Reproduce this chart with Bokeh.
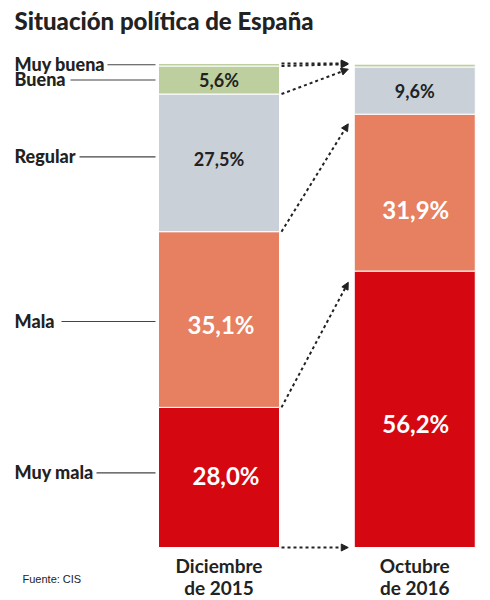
from bokeh.plotting import figure
from bokeh.models import Range1d, ColumnDataSource, Arrow, NormalHead, Label
from bokeh.core.properties import value
from bokeh.embed import file_html
from bokeh.resources import INLINE
import numpy as np

# ---------------- data ----------------
categories = ["Muy mala", "Mala", "Regular", "Buena", "Muy buena"]
periods = ["Diciembre\nde 2015", "Octubre\nde 2016"]
dic_2015 = [28.0, 35.1, 27.5, 5.6, 0.5]
oct_2016 = [56.2, 31.9, 9.6, 0.6, 0.1]
labels_2015 = ["28,0%", "35,1%", "27,5%", "5,6%", ""]
labels_2016 = ["56,2%", "31,9%", "9,6%", "", ""]
colors = ["#D50812", "#E77F61", "#C9D0D7", "#BDCF9E", "#BDCF9E"]

# ---------------- geometry ----------------
W, H = 490, 600
XS = 195.75           # px per x unit (distance between bar centres)
X0C = 218.5           # canvas px of first bar centre
Y0C = 547             # canvas px (from top) of y = 0
Y100C = 63            # canvas px (from top) of y = 100
YS = (Y0C - Y100C) / 100.0
BW = 121 / XS
FONT = "Lato"
HEAVY = "'Lato Black', Lato"
DARK = "#222222"

x_start = -X0C / XS
x_end = (W - X0C) / XS
y_start = -(H - Y0C) / YS
y_end = 100 + Y100C / YS


def px2x(cx):
    return x_start + cx / XS


p = figure(width=W, height=H, x_range=Range1d(x_start, x_end),
           y_range=Range1d(y_start, y_end), toolbar_location=None,
           output_backend="svg", min_border=0)
p.axis.visible = False
p.grid.visible = False
p.outline_line_color = None
p.background_fill_color = "white"
p.border_fill_color = "white"

series = [dic_2015, oct_2016]
all_labels = [labels_2015, labels_2016]
bounds = []
rows = dict(x=[], bottom=[], top=[], color=[])
txt = dict(x=[], y=[], text=[], color=[], size=[], yoff=[], xoff=[])
label_yoff = [[-2, 5, -4, 0, 0], [14, 17, 0, 0, 0]]
label_xoff = [[7, 2, 0, 0, 0], [1, 1, 0, 0, 0]]
for i, vals in enumerate(series):
    tot = sum(vals)
    cum = np.concatenate([[0], np.cumsum(vals)]) / tot * 100
    bounds.append(cum)
    for j, v in enumerate(vals):
        rows["x"].append(i)
        rows["bottom"].append(cum[j])
        rows["top"].append(cum[j + 1])
        rows["color"].append(colors[j])
        lab = all_labels[i][j]
        if lab:
            big = j <= 1
            txt["x"].append(i)
            txt["y"].append((cum[j] + cum[j + 1]) / 2)
            txt["text"].append(lab)
            txt["color"].append("white" if big else DARK)
            txt["size"].append("24px" if big else "18px")
            txt["yoff"].append(label_yoff[i][j])
            txt["xoff"].append(label_xoff[i][j])

p.vbar(x="x", bottom="bottom", top="top", width=BW, color="color",
       line_color="white", line_width=1, source=ColumnDataSource(rows))

p.text(x="x", y="y", text="text", text_color="color", text_font_size="size",
       text_font_style="bold", y_offset="yoff", x_offset="xoff", text_align="center",
       text_baseline="middle", text_font=value(FONT), source=ColumnDataSource(txt))

# ---------------- left labels with leader lines ----------------
lead_start_px = [96, 61, 79, 70, 107]   # px where leader lines start
lead_yoff = [-4.5, 2, -6, 0, 0]
b1 = bounds[0]
left = dict(x=[], y=[], text=[])
seg = dict(x0=[], x1=[], y=[])
for j, name in enumerate(categories):
    yc = (b1[j] + b1[j + 1]) / 2 - lead_yoff[j] / YS
    left["x"].append(px2x(14))
    left["y"].append(yc)
    left["text"].append(name)
    seg["x0"].append(px2x(lead_start_px[j]))
    seg["x1"].append(-BW / 2 - 3 / XS)
    seg["y"].append(yc)

p.segment(x0="x0", x1="x1", y0="y", y1="y", line_color="#444444", line_width=1.2,
          source=ColumnDataSource(seg))
p.text(x="x", y="y", text="text", text_color=DARK, text_font_size="18px",
       text_font_style="bold", text_font=value(HEAVY), text_align="left",
       text_baseline="middle", y_offset=-1, source=ColumnDataSource(left))

# ---------------- dotted arrows ----------------
b2 = bounds[1]
arr = dict(x0=[], y0=[], x1=[], y1=[])
xa = BW / 2 + 2 / XS
xt = 1 - BW / 2
xe = xt - 6 / XS
for k in range(len(b1)):
    y0, yt = b1[k], b2[k]
    arr["x0"].append(xa)
    arr["y0"].append(y0)
    arr["x1"].append(xe)
    arr["y1"].append(y0 + (yt - y0) * (xe - xa) / (xt - xa))

p.add_layout(Arrow(x_start="x0", y_start="y0", x_end="x1", y_end="y1",
                   source=ColumnDataSource(arr), line_color=DARK, line_width=2,
                   line_dash="3 3",
                   end=NormalHead(size=7, fill_color=DARK, line_color=DARK, line_width=1)))

# ---------------- period labels ----------------
per = dict(x=[], y=[], text=[], yoff=[])
for i, lab in enumerate(periods):
    for k, line in enumerate(lab.split("\n")):
        per["x"].append(i)
        per["y"].append(0)
        per["text"].append(line)
        per["yoff"].append(18 + 22 * k)
p.text(x="x", y="y", text="text", y_offset="yoff", text_color=DARK,
       text_font_size="19px", text_font_style="bold", text_font=value(FONT),
       text_align="center", text_baseline="middle", source=ColumnDataSource(per))

# ---------------- title & source ----------------
p.add_layout(Label(x=14, y=H - 20, x_units="screen", y_units="screen",
                   text="Situación política de España", text_font=HEAVY,
                   text_font_size="24px", text_font_style="bold", text_color=DARK,
                   text_baseline="middle"))
p.add_layout(Label(x=22, y=H - 578, x_units="screen", y_units="screen",
                   text="Fuente: CIS", text_font="Liberation Sans",
                   text_font_size="11px", text_color=DARK, text_baseline="middle"))

open("out.html", "w").write(file_html(p, INLINE))
